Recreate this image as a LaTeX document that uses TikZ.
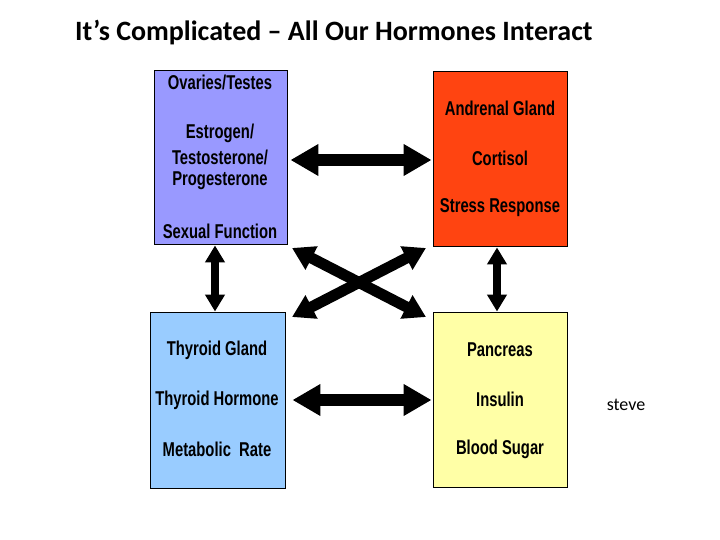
\documentclass[tikz,border=0pt]{standalone}
\usepackage{fontspec}
\setmainfont{Carlito}
\newfontfamily\boxfont[FakeStretch=0.74]{Liberation Sans}
\usetikzlibrary{arrows.meta}
\definecolor{cTL}{HTML}{9999FF}
\definecolor{cTR}{HTML}{FF4411}
\definecolor{cBL}{HTML}{99CCFF}
\definecolor{cBR}{HTML}{FFFFA6}
\tikzset{
  box/.style={draw=black, line width=0.9pt, rectangle, inner sep=0pt},
  lbl/.style={font=\boxfont\bfseries\fontsize{20}{22}\selectfont, inner sep=0pt, anchor=center},
  bigarrow/.style={line width=12pt, {Triangle[length=28pt,width=30pt]}-{Triangle[length=28pt,width=30pt]}},
  crossarrow/.style={line width=11pt, {Triangle[length=22pt,width=25pt]}-{Triangle[length=22pt,width=25pt]}},
  vertarrow/.style={line width=8pt, {Triangle[length=17pt,width=19pt]}-{Triangle[length=17pt,width=19pt]}},
}
\begin{document}
\begin{tikzpicture}[x=1pt,y=-1pt]
\useasboundingbox (0,0) rectangle (720,540);
\node[font=\bfseries\fontsize{28}{32}\selectfont, anchor=west, inner sep=0pt] (title) at (75,33) {It’s Complicated – All Our Hormones Interact};

\node[box, fill=cTL, minimum width=133pt, minimum height=174pt] (tl) at (220.5,157) {};
\node[box, fill=cTR, minimum width=134pt, minimum height=175pt] (tr) at (500,158.5) {};
\node[box, fill=cBL, minimum width=135pt, minimum height=176pt] (bl) at (217.5,400) {};
\node[box, fill=cBR, minimum width=134pt, minimum height=175pt] (br) at (500,399.5) {};

\node[lbl] (t1) at (220,82) {Ovaries/Testes};
\node[lbl] (t2) at (220,133) {Estrogen/};
\node[lbl] (t3) at (220,157) {Testosterone/};
\node[lbl] (t4) at (220,181) {Progesterone};
\node[lbl] (t5) at (220,231) {Sexual Function};

\node[lbl] (r1) at (500,108) {Andrenal Gland};
\node[lbl] (r2) at (500,158) {Cortisol};
\node[lbl] (r3) at (500,208) {Stress Response};

\node[lbl] (b1) at (217,350) {Thyroid Gland};
\node[lbl] (b2) at (217,400) {Thyroid Hormone};
\node[lbl] (b3) at (217,449) {Metabolic\ \ Rate};

\node[lbl] (p1) at (500,350) {Pancreas};
\node[lbl] (p2) at (500,399) {Insulin};
\node[lbl] (p3) at (500,449) {Blood Sugar};

\node[font=\fontsize{18}{20}\selectfont, inner sep=0pt] (steve) at (626,405) {steve};

\draw[bigarrow, shorten <=3pt, shorten >=1pt] (tl.east |- 0,160) -- (tr.west |- 0,160);
\draw[bigarrow, shorten <=7pt, shorten >=1pt] (bl.east |- 0,400) -- (br.west |- 0,400);
\draw[vertarrow, shorten <=1pt, shorten >=0pt] (tl.south -| 215,0) -- (bl.north -| 215,0);
\draw[vertarrow, shorten <=1pt, shorten >=0pt] (tr.south -| 497,0) -- (br.north -| 497,0);

\coordinate (xa) at (292,248);
\coordinate (xb) at (426,317);
\coordinate (xc) at (426,248);
\coordinate (xd) at (292,317);
\draw[crossarrow] (xa) -- (xb);
\draw[crossarrow] (xc) -- (xd);
\end{tikzpicture}
\end{document}
